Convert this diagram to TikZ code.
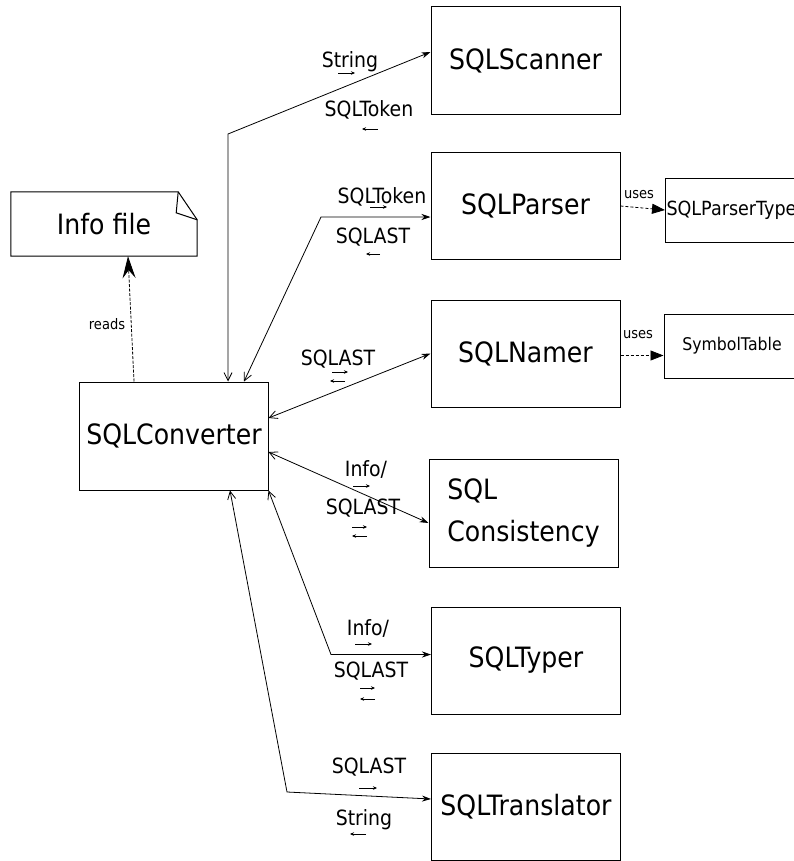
\documentclass[tikz,border=0pt]{standalone}
\usepackage{fontspec}
\setmainfont{DejaVu Sans}[FakeStretch=0.9]
\usetikzlibrary{arrows.meta}
\tikzset{
  comp/.style={draw, line width=1bp, minimum width=189bp, minimum height=107bp, inner sep=0pt,
    font=\fontsize{28bp}{42bp}\selectfont},
  aux/.style={draw, line width=1bp, minimum height=64bp, inner sep=1bp,
    font=\fontsize{17.5bp}{21bp}\selectfont},
  lbl/.style={anchor=base, inner sep=0pt, font=\fontsize{21bp}{25bp}\selectfont},
  slbl/.style={anchor=base, inner sep=0pt, font=\fontsize{14.5bp}{17bp}\selectfont},
  conn/.style={line width=0.8bp, {Straight Barb[length=8bp,width=8bp]}-{Stealth[length=9bp,width=6bp]}},
  uses/.style={line width=0.8bp, dash pattern=on 3bp off 2bp, -{Triangle[length=13bp,width=10bp]}},
  readsarr/.style={line width=0.8bp, dash pattern=on 3bp off 1.5bp, -{Stealth[length=22bp,width=13bp,inset=8bp]}},
  tiny/.style={line width=0.6bp, -{Stealth[length=4bp,width=3.5bp]}}
}
\begin{document}
\begin{tikzpicture}[x=1bp,y=-1bp]
\useasboundingbox[fill=white] (0,0) rectangle (794,861);
% components
\node[comp] (scan)  at (525.5,60.5) {SQLScanner};
\node[comp] (parse) at (525.5,206)  {SQLParser};
\node[comp] (namer) at (525.5,353.5) {SQLNamer};
\node[comp, align=left, minimum height=108bp] (cons) at (523.5,513) {SQL\\Consistency};
\node[comp] (typer) at (526,660.5) {SQLTyper};
\node[comp] (trans) at (526,806.5) {SQLTranslator};
\node[comp, minimum width=188bp, minimum height=108bp] (conv) at (174,436) {SQLConverter};
\node[aux, anchor=west, minimum width=150bp, align=left, text width=150bp,
  font=\fontsize{19.5bp}{23bp}\selectfont] (ptypes) at (665,210) {SQLParserTypes};
\node[aux, minimum width=136bp] (symtab) at (732,346) {SymbolTable};
% info file
\node[minimum width=186bp, minimum height=64bp, inner sep=0pt, font=\fontsize{28bp}{34bp}\selectfont] (info) at (104,224) {Info file};
\draw[line width=1bp, line join=miter] (info.south west) -- (info.north west) -- ([xshift=-19bp]info.north east)
  -- ([yshift=-28bp]info.north east) -- (info.south east) -- cycle;
\draw[line width=1bp] ([xshift=-19bp]info.north east) -- ([xshift=-21bp,yshift=-21bp]info.north east)
  -- ([yshift=-28bp]info.north east);
% bends
\coordinate (b1) at (228,134);
\coordinate (b2) at (321,217);
\coordinate (b3) at (331,654.5);
\coordinate (b4) at (287,792);
% connectors
\draw[conn] ([xshift=54bp]conv.north) -- (b1) -- ([yshift=8.5bp]scan.west);
\draw[conn] ([xshift=70bp]conv.north) -- (b2) -- ([yshift=-11bp]parse.west);
\draw[conn] ([yshift=18bp]conv.east) -- (namer.west);
\draw[conn] ([yshift=-16bp]conv.east) -- ([yshift=-10bp]cons.west);
\draw[conn] (conv.south east) -- (b3) -- ([yshift=6bp]typer.west);
\draw[conn] ([xshift=56bp]conv.south) -- (b4) -- ([yshift=7.5bp]trans.west);
\draw[readsarr] ([xshift=-40bp]conv.north) -- ([xshift=24bp]info.south);
\draw[uses] (parse.east) -- (ptypes.west);
\draw[uses] ([yshift=-2bp]namer.east) -- ([yshift=-2bp]namer.east -| symtab.west);
% labels
\node[slbl] (lreads) at (107,329) {reads};
\node[slbl] (luses1) at (639,198) {uses};
\node[slbl] (luses2) at (638,338) {uses};
\node[lbl] (l1) at (350,67) {String};
\node[lbl] (l2) at (369,116) {SQLToken};
\node[lbl] (l3) at (382,203) {SQLToken};
\node[lbl] (l4) at (373,243) {SQLAST};
\node[lbl] (l5) at (338,365) {SQLAST};
\node[lbl] (l6) at (366,476) {Info/};
\node[lbl] (l7) at (363,514) {SQLAST};
\node[lbl] (l8) at (368,635) {Info/};
\node[lbl] (l9) at (371,677) {SQLAST};
\node[lbl] (l10) at (369,773) {SQLAST};
\node[lbl] (l11) at (364,825) {String};
% tiny direction arrows
\draw[tiny] (338,73) -- (355,73);
\draw[tiny] (378,129) -- (362,129);
\draw[tiny] (370,207) -- (387,207);
\draw[tiny] (380,254) -- (366,254);
\draw[tiny] (332,372) -- (348,372);
\draw[tiny] (345,381) -- (330,381);
\draw[tiny] (353,486) -- (370,486);
\draw[tiny] (352,527) -- (367,527);
\draw[tiny] (367,536) -- (352,536);
\draw[tiny] (355,644) -- (372,644);
\draw[tiny] (360,688) -- (375,688);
\draw[tiny] (375,699) -- (360,699);
\draw[tiny] (359,788) -- (377,788);
\draw[tiny] (366,834) -- (350,834);
\end{tikzpicture}
\end{document}
